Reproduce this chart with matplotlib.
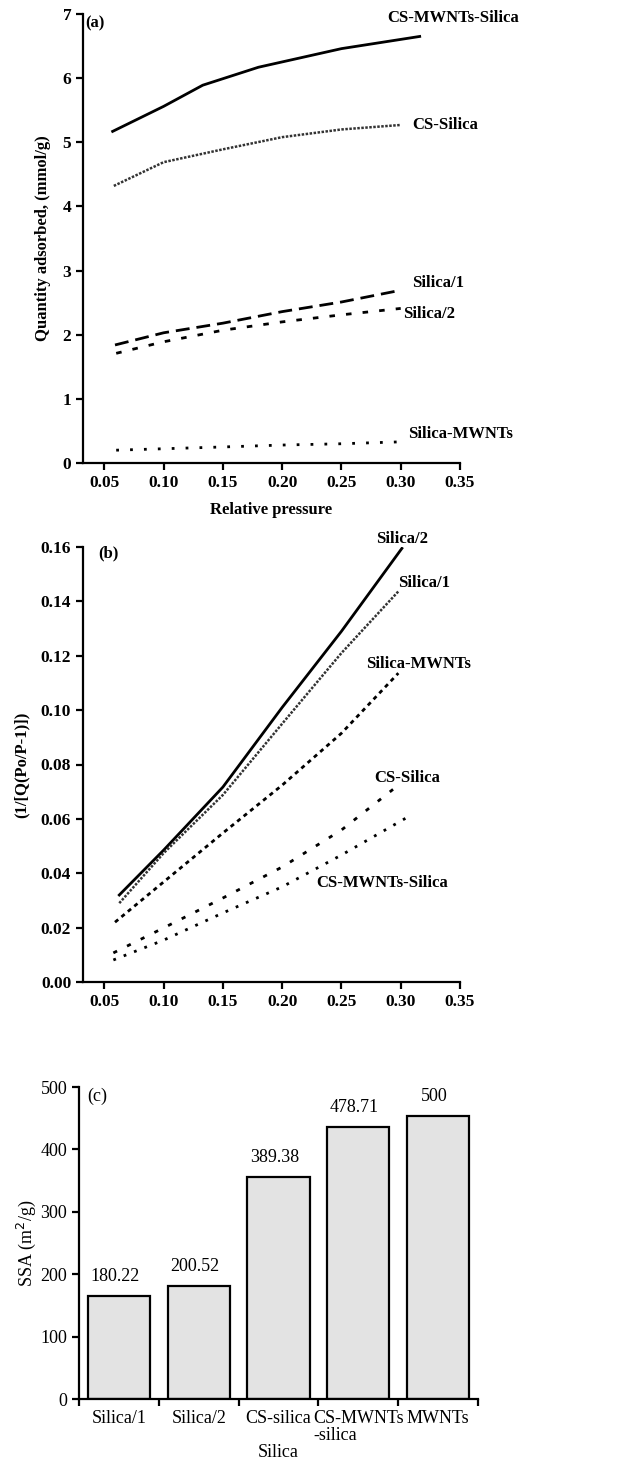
import numpy as np
import matplotlib
matplotlib.use('Agg')
import matplotlib.pyplot as plt
from matplotlib import rcParams

rcParams['font.family'] = 'serif'
rcParams['font.serif'] = ['Liberation Serif', 'DejaVu Serif']
rcParams['axes.linewidth'] = 1.6
rcParams['xtick.major.width'] = 1.6
rcParams['ytick.major.width'] = 1.6
rcParams['xtick.major.size'] = 5
rcParams['ytick.major.size'] = 5

# ---- panel (a): quantity adsorbed vs relative pressure ----
a_cs_mwnt_x = [0.057, 0.10, 0.133, 0.18, 0.25, 0.316]
a_cs_mwnt_y = [5.17, 5.56, 5.89, 6.17, 6.46, 6.65]
a_cs_x = [0.058, 0.10, 0.15, 0.20, 0.25, 0.30]
a_cs_y = [4.32, 4.69, 4.89, 5.08, 5.20, 5.27]
a_s1_x = [0.059, 0.10, 0.15, 0.20, 0.25, 0.299]
a_s1_y = [1.84, 2.03, 2.18, 2.36, 2.51, 2.69]
a_s2_x = [0.060, 0.10, 0.15, 0.20, 0.25, 0.30]
a_s2_y = [1.71, 1.89, 2.07, 2.20, 2.31, 2.41]
a_smw_x = [0.060, 0.15, 0.20, 0.25, 0.30]
a_smw_y = [0.20, 0.25, 0.28, 0.30, 0.33]

# ---- panel (b): BET plot ----
b_s2_x = [0.0626, 0.10, 0.15, 0.20, 0.25, 0.301]
b_s2_y = [0.032, 0.0485, 0.0717, 0.101, 0.129, 0.1595]
b_s1_x = [0.0626, 0.10, 0.15, 0.20, 0.25, 0.2987]
b_s1_y = [0.029, 0.0474, 0.0688, 0.095, 0.121, 0.144]
b_smw_x = [0.059, 0.10, 0.15, 0.20, 0.25, 0.298]
b_smw_y = [0.022, 0.0368, 0.0548, 0.0724, 0.0915, 0.1136]
b_cs_x = [0.0576, 0.10, 0.15, 0.20, 0.25, 0.298]
b_cs_y = [0.0107, 0.0199, 0.0309, 0.0423, 0.0559, 0.0724]
b_csmw_x = [0.0576, 0.10, 0.15, 0.20, 0.25, 0.3088]
b_csmw_y = [0.0081, 0.0154, 0.0254, 0.035, 0.0467, 0.0614]

# ---- panel (c): specific surface area ----
c_names = ['Silica/1', 'Silica/2', 'CS-silica', 'CS-MWNTs\n-silica', 'MWNTs']
c_heights = [165, 181, 356, 436, 453]
c_labels = ['180.22', '200.52', '389.38', '478.71', '500']

fig = plt.figure(figsize=(6.17, 14.68), dpi=100)

bold = dict(fontweight='bold', fontsize=12)

# panel a
ax = fig.add_axes([83/617, 1-463/1468, (460-83)/617, (463-14)/1468])
ax.plot(a_cs_mwnt_x, a_cs_mwnt_y, color='k', lw=2)
ax.plot(a_cs_x, a_cs_y, color='#333333', lw=1.8, linestyle=(0, (1, 0.6)))
ax.plot(a_s1_x, a_s1_y, color='k', lw=2, linestyle=(0, (5, 2.5)))
ax.plot(a_s2_x, a_s2_y, color='k', lw=2, linestyle=(0, (2, 4)))
ax.plot(a_smw_x, a_smw_y, color='k', lw=2, linestyle=(0, (1, 4)))
ax.set_xlim(0.032, 0.35)
ax.set_ylim(0, 7)
ax.set_xticks([0.05, 0.10, 0.15, 0.20, 0.25, 0.30, 0.35])
ax.set_xticklabels(['0.05', '0.10', '0.15', '0.20', '0.25', '0.30', '0.35'])
ax.set_yticks(range(8))
for lab in ax.get_xticklabels() + ax.get_yticklabels():
    lab.set_fontweight('bold')
    lab.set_fontsize(12.5)
ax.spines['top'].set_visible(False)
ax.spines['right'].set_visible(False)
ax.set_xlabel('Relative pressure', fontweight='bold', fontsize=12, labelpad=8)
ax.set_ylabel('Quantity adsorbed, (mmol/g)', fontweight='bold', fontsize=12, labelpad=8)
ax.text(0.0335, 6.85, '(a)', ha='left', va='center', **bold)
ax.text(0.2885, 6.93, 'CS-MWNTs-Silica', ha='left', va='center', **bold)
ax.text(0.31, 5.27, 'CS-Silica', ha='left', va='center', **bold)
ax.text(0.3095, 2.8, 'Silica/1', ha='left', va='center', **bold)
ax.text(0.302, 2.33, 'Silica/2', ha='left', va='center', **bold)
ax.text(0.306, 0.45, 'Silica-MWNTs', ha='left', va='center', **bold)

# panel b
ax = fig.add_axes([83/617, 1-982/1468, (460-83)/617, (982-547)/1468])
ax.plot(b_s2_x, b_s2_y, color='k', lw=2)
ax.plot(b_s1_x, b_s1_y, color='#333333', lw=1.8, linestyle=(0, (1, 0.6)))
ax.plot(b_smw_x, b_smw_y, color='k', lw=2, linestyle=(0, (1.5, 1.5)))
ax.plot(b_cs_x, b_cs_y, color='k', lw=2, linestyle=(0, (1.5, 4)))
ax.plot(b_csmw_x, b_csmw_y, color='k', lw=2, linestyle=(0, (1, 3)))
ax.set_xlim(0.032, 0.35)
ax.set_ylim(0, 0.16)
ax.set_xticks([0.05, 0.10, 0.15, 0.20, 0.25, 0.30, 0.35])
ax.set_xticklabels(['0.05', '0.10', '0.15', '0.20', '0.25', '0.30', '0.35'])
ax.set_yticks(np.arange(0, 0.161, 0.02))
ax.set_yticklabels(['%.2f' % v for v in np.arange(0, 0.161, 0.02)])
for lab in ax.get_xticklabels() + ax.get_yticklabels():
    lab.set_fontweight('bold')
    lab.set_fontsize(12.5)
ax.spines['top'].set_visible(False)
ax.spines['right'].set_visible(False)
ax.set_ylabel('(1/[Q(Po/P-1)])', fontweight='bold', fontsize=12, labelpad=8)
ax.text(0.045, 0.1577, '(b)', ha='left', va='center', **bold)
ax.text(0.279, 0.1628, 'Silica/2', ha='left', va='center', **bold)
ax.text(0.2977, 0.1467, 'Silica/1', ha='left', va='center', **bold)
ax.text(0.2708, 0.1169, 'Silica-MWNTs', ha='left', va='center', **bold)
ax.text(0.2775, 0.0751, 'CS-Silica', ha='left', va='center', **bold)
ax.text(0.2288, 0.0363, 'CS-MWNTs-Silica', ha='left', va='center', **bold)

# panel c
ax = fig.add_axes([79/617, 1-1399/1468, (478-79)/617, (1399-1087)/1468])
pos = np.arange(len(c_names))
bars = ax.bar(pos, c_heights, width=0.78, color='#e3e3e3', edgecolor='k', linewidth=1.6)
for b, lab in zip(bars, c_labels):
    ax.annotate(lab, (b.get_x() + b.get_width() / 2, b.get_height()),
                xytext=(-3, 8), textcoords='offset points', ha='center', va='bottom', fontsize=13)
ax.set_xlim(-0.5, len(c_names) - 0.5)
ax.set_ylim(0, 500)
ax.set_xticks(np.arange(-0.5, len(c_names), 1.0))
ax.set_xticklabels([])
ax.set_xticks(pos, minor=True)
ax.set_xticklabels(c_names, minor=True, fontsize=13, va='top', multialignment='left',
                   linespacing=1.0)
ax.tick_params(axis='x', which='minor', length=0, pad=8)
ax.set_yticks([0, 100, 200, 300, 400, 500])
ax.tick_params(axis='y', labelsize=13)
ax.spines['top'].set_visible(False)
ax.spines['right'].set_visible(False)
ax.set_xlabel('Silica', fontsize=13, labelpad=0)
ax.set_ylabel('SSA (m$^2$/g)', fontsize=13, labelpad=2)
ax.text(-0.4, 485, '(c)', ha='left', va='center', fontsize=13)

fig.savefig('out.png', dpi=100)
